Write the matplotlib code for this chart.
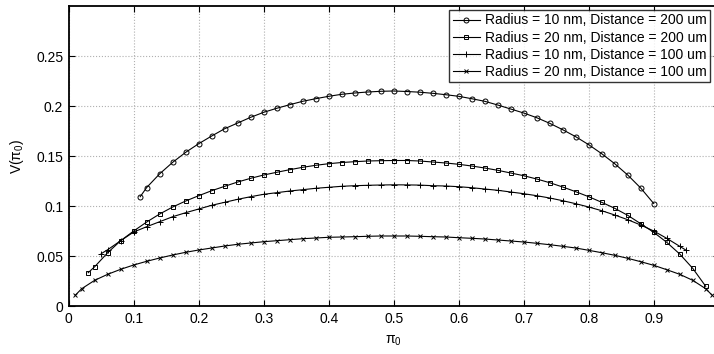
"""
plot.py - V(pi_0) curves for two radii at two distances.
"""

import matplotlib
matplotlib.use('Agg')
import matplotlib.pyplot as plt

plt.rcParams['font.family'] = ['Liberation Sans', 'DejaVu Sans']
plt.rcParams['mathtext.default'] = 'regular'

# Radius = 10 nm, Distance = 200 um
pi_r10_d200 = [0.11, 0.12, 0.14, 0.16, 0.18, 0.20, 0.22, 0.24, 0.26, 0.28,
               0.30, 0.32, 0.34, 0.36, 0.38, 0.40, 0.42, 0.44, 0.46, 0.48,
               0.50, 0.52, 0.54, 0.56, 0.58, 0.60, 0.62, 0.64, 0.66, 0.68,
               0.70, 0.72, 0.74, 0.76, 0.78, 0.80, 0.82, 0.84, 0.86, 0.88,
               0.90]
v_r10_d200 = [0.1093, 0.1185, 0.1322, 0.1437, 0.1537, 0.1623, 0.1700, 0.1773,
              0.1830, 0.1887, 0.1937, 0.1977, 0.2013, 0.2047, 0.2073, 0.2097,
              0.2117, 0.2130, 0.2140, 0.2147, 0.2150, 0.2145, 0.2138, 0.2127,
              0.2113, 0.2097, 0.2073, 0.2047, 0.2010, 0.1970, 0.1930, 0.1883,
              0.1827, 0.1763, 0.1693, 0.1613, 0.1523, 0.1423, 0.1310, 0.1180,
              0.1025]

# Radius = 20 nm, Distance = 200 um
pi_r20_d200 = [0.03, 0.04, 0.06, 0.08, 0.10, 0.12, 0.14, 0.16, 0.18, 0.20,
               0.22, 0.24, 0.26, 0.28, 0.30, 0.32, 0.34, 0.36, 0.38, 0.40,
               0.42, 0.44, 0.46, 0.48, 0.50, 0.52, 0.54, 0.56, 0.58, 0.60,
               0.62, 0.64, 0.66, 0.68, 0.70, 0.72, 0.74, 0.76, 0.78, 0.80,
               0.82, 0.84, 0.86, 0.88, 0.90, 0.92, 0.94, 0.96, 0.98]
v_r20_d200 = [0.0333, 0.0393, 0.0533, 0.0653, 0.0750, 0.0840, 0.0920, 0.0990,
              0.1050, 0.1103, 0.1153, 0.1197, 0.1240, 0.1277, 0.1310, 0.1337,
              0.1363, 0.1387, 0.1407, 0.1423, 0.1435, 0.1443, 0.1450, 0.1453,
              0.1455, 0.1455, 0.1450, 0.1440, 0.1430, 0.1417, 0.1400, 0.1380,
              0.1357, 0.1330, 0.1303, 0.1270, 0.1233, 0.1190, 0.1143, 0.1093,
              0.1037, 0.0977, 0.0907, 0.0823, 0.0737, 0.0637, 0.0520, 0.0377,
              0.0197]

# Radius = 10 nm, Distance = 100 um
pi_r10_d100 = [0.05, 0.06, 0.08, 0.10, 0.12, 0.14, 0.16, 0.18, 0.20, 0.22,
               0.24, 0.26, 0.28, 0.30, 0.32, 0.34, 0.36, 0.38, 0.40, 0.42,
               0.44, 0.46, 0.48, 0.50, 0.52, 0.54, 0.56, 0.58, 0.60, 0.62,
               0.64, 0.66, 0.68, 0.70, 0.72, 0.74, 0.76, 0.78, 0.80, 0.82,
               0.84, 0.86, 0.88, 0.90, 0.92, 0.94, 0.95]
v_r10_d100 = [0.0523, 0.0563, 0.0653, 0.0740, 0.0793, 0.0843, 0.0893, 0.0933,
              0.0970, 0.1007, 0.1037, 0.1067, 0.1093, 0.1117, 0.1133, 0.1150,
              0.1163, 0.1177, 0.1187, 0.1197, 0.1203, 0.1207, 0.1210, 0.1212,
              0.1211, 0.1209, 0.1203, 0.1200, 0.1193, 0.1183, 0.1170, 0.1157,
              0.1140, 0.1123, 0.1103, 0.1080, 0.1053, 0.1023, 0.0990, 0.0953,
              0.0910, 0.0863, 0.0810, 0.0750, 0.0677, 0.0597, 0.0557]

# Radius = 20 nm, Distance = 100 um
pi_r20_d100 = [0.01, 0.02, 0.04, 0.06, 0.08, 0.10, 0.12, 0.14, 0.16, 0.18,
               0.20, 0.22, 0.24, 0.26, 0.28, 0.30, 0.32, 0.34, 0.36, 0.38,
               0.40, 0.42, 0.44, 0.46, 0.48, 0.50, 0.52, 0.54, 0.56, 0.58,
               0.60, 0.62, 0.64, 0.66, 0.68, 0.70, 0.72, 0.74, 0.76, 0.78,
               0.80, 0.82, 0.84, 0.86, 0.88, 0.90, 0.92, 0.94, 0.96, 0.98,
               0.99]
v_r20_d100 = [0.0107, 0.0173, 0.0257, 0.0317, 0.0367, 0.0410, 0.0447, 0.0480,
              0.0510, 0.0537, 0.0560, 0.0580, 0.0600, 0.0617, 0.0630, 0.0643,
              0.0653, 0.0663, 0.0673, 0.0680, 0.0687, 0.0690, 0.0693, 0.0697,
              0.0700, 0.0700, 0.0700, 0.0697, 0.0693, 0.0690, 0.0683, 0.0677,
              0.0670, 0.0660, 0.0650, 0.0640, 0.0627, 0.0613, 0.0597, 0.0580,
              0.0557, 0.0533, 0.0507, 0.0477, 0.0443, 0.0407, 0.0363, 0.0317,
              0.0257, 0.0173, 0.0107]

labels = ['Radius = 10 nm, Distance = 200 um',
          'Radius = 20 nm, Distance = 200 um',
          'Radius = 10 nm, Distance = 100 um',
          'Radius = 20 nm, Distance = 100 um']

x_ticks = [0, 0.1, 0.2, 0.3, 0.4, 0.5, 0.6, 0.7, 0.8, 0.9]
x_ticklabels = ['0', '0.1', '0.2', '0.3', '0.4', '0.5', '0.6', '0.7', '0.8', '0.9']
y_ticks = [0, 0.05, 0.1, 0.15, 0.2, 0.25]
y_ticklabels = ['0', '0.05', '0.1', '0.15', '0.2', '0.25']

W, H = 714, 354
fig = plt.figure(figsize=(W / 100, H / 100), dpi=100)
# axes run past the right edge of the canvas, as in the cropped original
ax = fig.add_axes([68.7 / W, 48 / H, 650 / W, 300 / H])

series = [
    (pi_r10_d200, v_r10_d200, 'o', 3.6),
    (pi_r20_d200, v_r20_d200, 's', 3.0),
    (pi_r10_d100, v_r10_d100, '+', 4.0),
    (pi_r20_d100, v_r20_d100, 'x', 3.0),
]
for (xs, ys, mk, ms), lab in zip(series, labels):
    ax.plot(xs, ys, color='black', linewidth=0.8, marker=mk, markersize=ms,
            markerfacecolor='none', markeredgewidth=0.7, label=lab)

ax.set_xlim(0, 1)
ax.set_ylim(0, 0.3)
ax.set_xticks(x_ticks)
ax.set_xticklabels(x_ticklabels)
ax.set_yticks(y_ticks)
ax.set_yticklabels(y_ticklabels)

ax.grid(True, linestyle=':', color='#b0b0b0', linewidth=0.8)
ax.tick_params(direction='in', length=4, width=0.8, top=True, right=True,
               labelsize=10, pad=4)
for sp in ax.spines.values():
    sp.set_linewidth(1.3)

ax.set_xlabel(r'π$_0$', fontsize=10, labelpad=6)
ax.set_ylabel(r'V(π$_0$)', fontsize=10)
ax.yaxis.set_label_coords(-0.066, 0.5)

leg = ax.legend(loc='upper right', bbox_to_anchor=(710 / W, 1 - 10 / H),
                bbox_transform=fig.transFigure, borderaxespad=0,
                fontsize=10, frameon=True, fancybox=False, edgecolor='black',
                labelspacing=0.22, handlelength=2.0, handletextpad=0.3,
                borderpad=0.25)
leg.get_frame().set_linewidth(1.0)

fig.savefig('out.png', dpi=100)
